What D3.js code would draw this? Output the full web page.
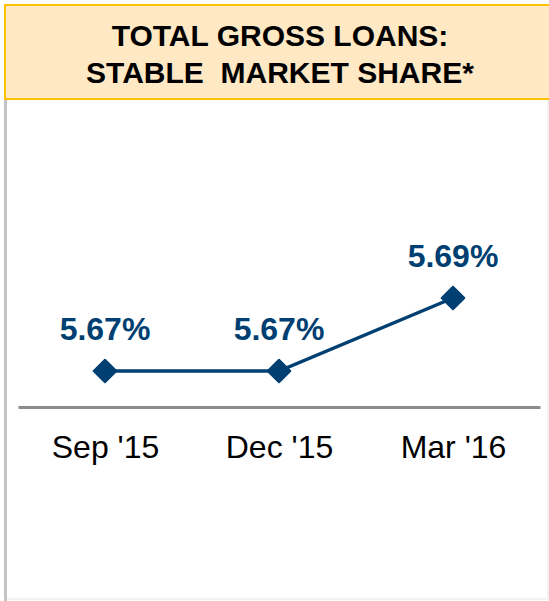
<!DOCTYPE html>
<html>
<head>
<meta charset="utf-8">
<script src="https://cdn.jsdelivr.net/npm/d3@7"></script>
<style>
  html, body { margin: 0; padding: 0; background: #fff; }
  svg { display: block; }
</style>
</head>
<body>
<svg id="chart" width="549" height="601"></svg>
<script>
// data
var periods = ["Sep '15", "Dec '15", "Mar '16"];
var shares = [5.67, 5.67, 5.69];
var title_lines = ["TOTAL GROSS LOANS:", "STABLE  MARKET SHARE*"];

var navy = "#003F72";

var svg = d3.select("#chart"),
    width = +svg.attr("width"),
    height = +svg.attr("height");

// panel frame
svg.append("rect")
    .attr("x", 5).attr("y", 99)
    .attr("width", 543).attr("height", 500)
    .attr("fill", "#fff")
    .attr("stroke", "#e4e4e4")
    .attr("stroke-width", 1);

svg.append("line")
    .attr("x1", 5.5).attr("x2", 5.5)
    .attr("y1", 99).attr("y2", height)
    .attr("stroke", "#c4c4c4")
    .attr("stroke-width", 3);

// header box
svg.append("rect")
    .attr("x", 5).attr("y", 5)
    .attr("width", 560).attr("height", 94)
    .attr("fill", "#FFE8C4")
    .attr("stroke", "#FFC000")
    .attr("stroke-width", 2);

svg.append("g").selectAll("text")
    .data(title_lines)
    .enter().append("text")
    .attr("x", 280)
    .attr("y", function(d, i) { return 46 + i * 37; })
    .attr("text-anchor", "middle")
    .style("font", "bold 30px 'Liberation Sans', Arial, sans-serif")
    .style("white-space", "pre")
    .attr("fill", "#000")
    .text(function(d) { return d; });

// scales
var x = d3.scalePoint()
    .domain(periods)
    .range([18, 540])
    .padding(0.5);

var y = d3.scaleLinear()
    .domain([5.66, 5.70])
    .range([407.5, 261.5]);

// axis
var axis = svg.append("g")
    .attr("transform", "translate(0,407)")
    .call(d3.axisBottom(x).tickSize(0).tickSizeOuter(0));

axis.select(".domain")
    .attr("stroke", "#8c8c8c")
    .attr("stroke-width", 3);

axis.selectAll(".tick text")
    .attr("y", 51)
    .attr("dy", 0)
    .attr("fill", "#000")
    .style("font", "32px 'Liberation Sans', Arial, sans-serif");

// line
var pts = periods.map(function(p, i) { return {p: p, v: shares[i]}; });

svg.append("path")
    .datum(pts)
    .attr("fill", "none")
    .attr("stroke", navy)
    .attr("stroke-width", 3.5)
    .attr("d", d3.line()
        .x(function(d) { return x(d.p); })
        .y(function(d) { return y(d.v); }));

// diamond markers
svg.append("g").selectAll("path")
    .data(pts)
    .enter().append("path")
    .attr("d", d3.symbol(d3.symbolSquare, 256))
    .attr("transform", function(d) {
        return "translate(" + x(d.p) + "," + y(d.v) + ") rotate(45)";
    })
    .attr("fill", navy)
    .attr("stroke", navy)
    .attr("stroke-width", 2)
    .attr("stroke-linejoin", "round");

// value labels
svg.append("g").selectAll("text")
    .data(pts)
    .enter().append("text")
    .attr("x", function(d) { return x(d.p); })
    .attr("y", function(d) { return y(d.v) - 31; })
    .attr("text-anchor", "middle")
    .attr("fill", navy)
    .style("font", "bold 32px 'Liberation Sans', Arial, sans-serif")
    .text(function(d) { return d.v.toFixed(2) + "%"; });
</script>
</body>
</html>
